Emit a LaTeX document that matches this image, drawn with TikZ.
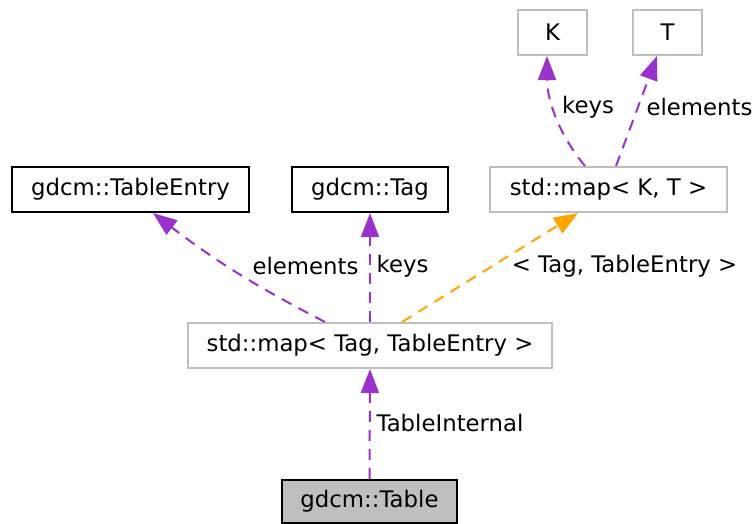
\documentclass[tikz,border=0pt]{standalone}
\usepackage{fontspec}
\setmainfont{DejaVu Sans}
\usepackage{tikz}
\usetikzlibrary{arrows.meta, positioning}
\definecolor{usePurple}{HTML}{9A32CD}
\definecolor{tmplOrange}{HTML}{FFA500}
\definecolor{boxGray}{HTML}{BFBFBF}

\begin{document}
\begin{tikzpicture}[
    x=1pt, y=-1pt,
    font=\fontsize{22.8}{26}\selectfont,
    classBox/.style={rectangle, draw=black, line width=2.2pt, fill=white, minimum height=45pt, inner sep=0pt},
    extBox/.style={rectangle, draw=boxGray, line width=2pt, fill=white, minimum height=45pt, inner sep=0pt},
    rootBox/.style={rectangle, draw=black, line width=2.2pt, fill=boxGray, minimum height=43pt, inner sep=0pt},
    useRel/.style={-{Triangle[length=24pt, width=18pt]}, usePurple, line width=2pt, dash pattern=on 11pt off 8pt},
    tmplRel/.style={-{Triangle[length=24pt, width=18pt]}, tmplOrange, line width=2pt, dash pattern=on 11pt off 8pt},
    relLabel/.style={inner sep=0pt}
]
    % Canvas
    \useasboundingbox (0,0) rectangle (754,523);

    % Template arguments
    \node[extBox, minimum width=69pt] (k) at (552.5, 32.5) {K};
    \node[extBox, minimum width=69pt] (t) at (667.5, 32.5) {T};

    % Middle row
    \node[classBox, minimum width=237pt] (tableEntry) at (130.5, 189.5) {gdcm::TableEntry};
    \node[classBox, minimum width=156pt] (tag)        at (370, 189.5)   {gdcm::Tag};
    \node[extBox,   minimum width=237pt] (mapKT)      at (608.5, 189.5) {std::map< K, T >};

    % Map instance and the class itself
    \node[extBox,  minimum width=364pt] (mapTag) at (370, 345.5) {std::map< Tag, TableEntry >};
    \node[rootBox, minimum width=175pt] (table) at (369.5, 501.5) {gdcm::Table};

    % Relations
    \draw[useRel] (table.north) -- (mapTag.south);
    \draw[useRel, bend left=5] ([xshift=-45pt]mapTag.north) to ([xshift=22.5pt]tableEntry.south);
    \draw[useRel] (mapTag.north) -- (tag.south);
    \draw[tmplRel] ([xshift=32pt]mapTag.north) -- ([xshift=-30.5pt]mapKT.south);
    \draw[useRel] ([xshift=-23.5pt]mapKT.north) .. controls +(-25,-30) and +(0,45) .. ([xshift=-5.5pt]k.south);
    \draw[useRel] ([xshift=7.5pt]mapKT.north) -- ([xshift=-10.5pt]t.south);

    % Labels
    \node[relLabel] (lblInternal) at (450, 423)   {TableInternal};
    \node[relLabel] (lblElements) at (305.5, 266) {elements};
    \node[relLabel] (lblKeys)     at (402.5, 266) {keys};
    \node[relLabel] (lblTmpl)     at (624.5, 266) {< Tag, TableEntry >};
    \node[relLabel] (lblKeysKT)   at (588, 107)   {keys};
    \node[relLabel] (lblElemKT)   at (699.5, 107) {elements};
\end{tikzpicture}
\end{document}
